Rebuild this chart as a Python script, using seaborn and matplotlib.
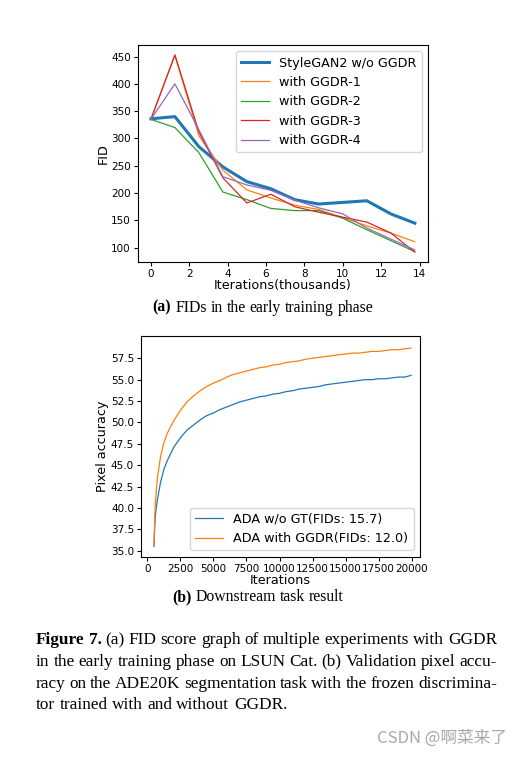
import matplotlib
matplotlib.use("Agg")
import matplotlib.pyplot as plt
import matplotlib.transforms as mtransforms
import seaborn as sns

# (a) FID during early training, x in thousands of iterations
fid_iters = [0, 1.25, 2.5, 3.75, 5, 6.25, 7.5, 8.75, 10, 11.25, 12.5, 13.75]
fid_base = [336, 340, 285, 248, 221, 208, 188, 180, 183, 186, 162, 145]
fid_ggdr1 = [335, 452, 305, 242, 206, 191, 178, 170, 155, 140, 127, 111]
fid_ggdr2 = [335, 320, 274, 202, 188, 172, 168, 168, 154, 133, 113, 93]
fid_ggdr3 = [335, 453, 312, 228, 182, 198, 175, 165, 156, 147, 127, 92]
fid_ggdr4 = [335, 400, 316, 230, 215, 205, 187, 173, 162, 136, 116, 96]
fid_names = ["StyleGAN2 w/o GGDR", "with GGDR-1", "with GGDR-2",
             "with GGDR-3", "with GGDR-4"]

# (b) pixel accuracy on ADE20K
acc_iters = [500, 550, 600, 700, 800, 1000, 1250, 1500, 2000, 2500, 3000,
             3500, 4000, 4500, 5000, 5500, 6000, 6500, 7000, 7500, 8000,
             8500, 9000, 9500, 10000, 10500, 11000, 11500, 12000, 12500,
             13000, 13500, 14000, 14500, 15000, 15500, 16000, 16500, 17000,
             17500, 18000, 18500, 19000, 19500, 19950]
acc_base = [35.5, 37.5, 39.0, 40.3, 41.3, 43.0, 44.5, 45.5, 47.1, 48.2, 49.1,
            49.7, 50.3, 50.8, 51.1, 51.5, 51.8, 52.1, 52.4, 52.6, 52.8,
            53.0, 53.1, 53.3, 53.4, 53.6, 53.7, 53.9, 54.0, 54.1,
            54.2, 54.4, 54.5, 54.6, 54.7, 54.8, 54.9, 55.0, 55.0,
            55.1, 55.1, 55.2, 55.3, 55.3, 55.5]
acc_ggdr = [35.6, 38.5, 40.5, 42.5, 44.0, 46.0, 47.6, 48.7, 50.2, 51.4, 52.4,
            53.1, 53.7, 54.2, 54.6, 54.9, 55.3, 55.6, 55.8, 56.0, 56.2,
            56.4, 56.5, 56.7, 56.8, 57.0, 57.1, 57.2, 57.4, 57.5,
            57.6, 57.7, 57.8, 57.9, 58.0, 58.1, 58.1, 58.2, 58.3,
            58.3, 58.4, 58.5, 58.5, 58.6, 58.7]
acc_names = ["ADA w/o GT(FIDs: 15.7)", "ADA with GGDR(FIDs: 12.0)"]

caption = [
    [("Figure", True), ("7.", True), ("(a)", False), ("FID", False), ("score", False),
     ("graph", False), ("of", False), ("multiple", False), ("experiments", False),
     ("with", False), ("GGDR", False)],
    [(w, False) for w in "in the early training phase on LSUN Cat. (b) Validation pixel accu-".split()],
    [(w, False) for w in "racy on the ADE20K segmentation task with the frozen discrimina-".split()],
    [(w, False) for w in "tor trained with and without GGDR.".split()],
]

W, H = 524, 758
fig = plt.figure(figsize=(W / 100, H / 100), dpi=100)
colors = sns.color_palette("tab10")
TICK, LABEL, LEG = 7.5, 9.2, 9.2

ax1 = fig.add_axes([137.7 / W, 1 - 262 / H, (428 - 137.7) / W, (262 - 45) / H])
for i, (vals, name) in enumerate(zip([fid_base, fid_ggdr1, fid_ggdr2, fid_ggdr3, fid_ggdr4], fid_names)):
    sns.lineplot(x=fid_iters, y=vals, ax=ax1, color=colors[i], label=name,
                 linewidth=2.2 if i == 0 else 0.9)
ax1.set_xticks(range(0, 15, 2))
ax1.set_yticks(range(100, 451, 50))
ax1.tick_params(labelsize=TICK, length=3, pad=2)
ax1.set_xlabel("Iterations(thousands)", fontsize=LABEL, labelpad=0)
ax1.set_ylabel("FID", fontsize=LABEL, labelpad=1)
ax1.legend(loc="upper right", fontsize=LEG, handlelength=2.2)

ax2 = fig.add_axes([141 / W, 1 - 556.7 / H, (420 - 141) / W, (556.7 - 336) / H])
for i, (vals, name) in enumerate(zip([acc_base, acc_ggdr], acc_names)):
    sns.lineplot(x=acc_iters, y=vals, ax=ax2, color=colors[i], label=name, linewidth=0.9)
ax2.set_xlim(-480, 20630)
ax2.set_ylim(34.3, 60.1)
ax2.set_xticks(range(0, 20001, 2500))
ax2.set_yticks([35.0 + 2.5 * k for k in range(10)])
ax2.yaxis.set_major_formatter(matplotlib.ticker.FormatStrFormatter("%.1f"))
ax2.tick_params(labelsize=TICK, length=3, pad=2)
ax2.set_xlabel("Iterations", fontsize=LABEL, labelpad=0)
ax2.set_ylabel("Pixel accuracy", fontsize=LABEL, labelpad=1)
ax2.legend(loc="lower right", fontsize=LEG, handlelength=2.2)

ident = mtransforms.IdentityTransform()
renderer = fig.canvas.get_renderer()


def place_words(words, y, size, x0=None, x1=None, center=None):
    # y is the text baseline in image pixels (from top)
    texts = []
    for w, bold in words:
        t = fig.text(0, H - y, w, fontsize=size, family="Liberation Serif",
                     weight="bold" if bold else "normal", va="baseline",
                     transform=ident)
        texts.append(t)
    widths = [t.get_window_extent(renderer=renderer).width for t in texts]
    space = 0.25 * size * 100 / 72
    if x0 is not None and x1 is not None:
        space = (x1 - x0 - sum(widths)) / (len(texts) - 1)
    if center is not None:
        x0 = center - (sum(widths) + space * (len(texts) - 1)) / 2
    x = x0
    for t, w in zip(texts, widths):
        t.set_x(x)
        x += w + space


place_words([("(a)", True), ("FIDs", False), ("in", False), ("the", False),
             ("early", False), ("training", False), ("phase", False)],
            311.7, 11.3, center=263)
place_words([("(b)", True), ("Downstream", False), ("task", False), ("result", False)],
            601, 11.3, center=258)

for k, line in enumerate(caption):
    y = 644 + 21.8 * k
    if k < 3:
        place_words(line, y, 12.4, x0=36, x1=497)
    else:
        place_words(line, y, 12.4, x0=36)

fig.text(507, H - 743, "CSDN @啊菜来了", ha="right", va="baseline",
         fontsize=12, color="#a8a8a8", transform=ident,
         family=["Noto Sans CJK SC", "DejaVu Sans"])

fig.savefig("out.png", dpi=100)
